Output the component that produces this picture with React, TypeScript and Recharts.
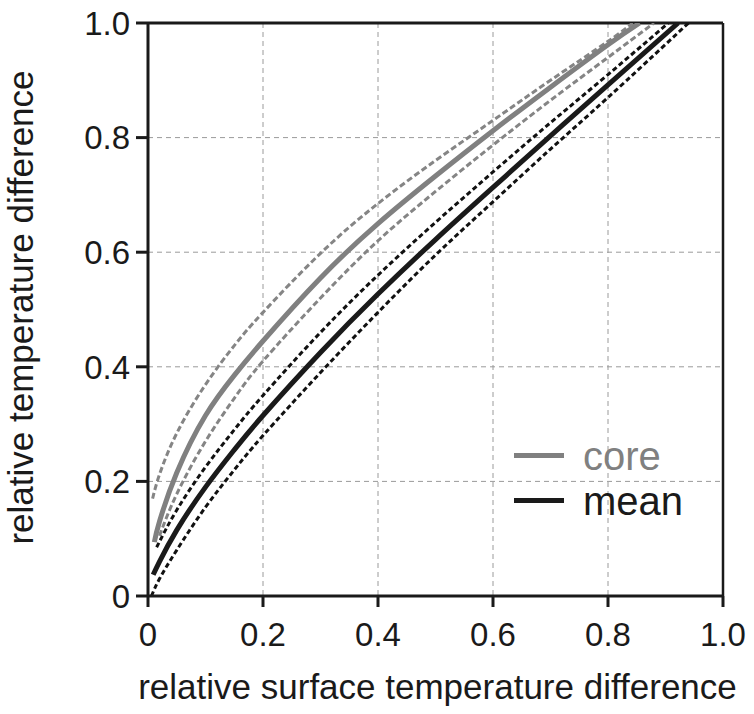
import {
  CartesianGrid,
  Legend,
  Line,
  LineChart,
  ReferenceLine,
  XAxis,
  YAxis,
  Label,
} from "recharts";

// values
const xTicks = [0, 0.2, 0.4, 0.6, 0.8, 1.0];
const yTicks = [0, 0.2, 0.4, 0.6, 0.8, 1.0];

const coreX = [0.011, 0.02, 0.05, 0.1, 0.15, 0.2, 0.3, 0.4, 0.5, 0.6, 0.7, 0.8, 0.855];
const coreY = [0.094, 0.13, 0.215, 0.315, 0.385, 0.445, 0.555, 0.65, 0.733, 0.812, 0.888, 0.962, 1.0];

const coreUpX = [0.008, 0.02, 0.05, 0.1, 0.15, 0.2, 0.3, 0.4, 0.5, 0.6, 0.7, 0.8, 0.843];
const coreUpY = [0.17, 0.212, 0.284, 0.369, 0.437, 0.495, 0.598, 0.685, 0.76, 0.83, 0.9, 0.968, 1.0];

const coreLowX = [0.02, 0.05, 0.1, 0.15, 0.2, 0.3, 0.4, 0.5, 0.6, 0.7, 0.8, 0.88];
const coreLowY = [0.105, 0.178, 0.27, 0.345, 0.41, 0.52, 0.62, 0.706, 0.787, 0.865, 0.94, 1.0];

const meanX = [0.009, 0.02, 0.05, 0.1, 0.15, 0.2, 0.3, 0.4, 0.5, 0.6, 0.7, 0.8, 0.922];
const meanY = [0.037, 0.06, 0.115, 0.19, 0.255, 0.315, 0.425, 0.527, 0.622, 0.713, 0.803, 0.892, 1.0];

const meanUpX = [0.015, 0.05, 0.1, 0.15, 0.2, 0.3, 0.4, 0.5, 0.6, 0.7, 0.8, 0.905];
const meanUpY = [0.085, 0.15, 0.225, 0.29, 0.35, 0.46, 0.56, 0.652, 0.74, 0.826, 0.91, 1.0];

const meanLowX = [0.006, 0.02, 0.05, 0.1, 0.15, 0.2, 0.3, 0.4, 0.5, 0.6, 0.7, 0.8, 0.94];
const meanLowY = [0.0, 0.03, 0.08, 0.155, 0.22, 0.28, 0.39, 0.495, 0.595, 0.688, 0.78, 0.87, 1.0];

const zip = (xs: number[], ys: number[]) => xs.map((x, i) => ({ x, y: ys[i] }));

const font = '"Liberation Sans", Arial, Helvetica, sans-serif';
const ink = "#1a1a1a";
const gray = "#808080";

const renderXLabel = ({ viewBox }: any) => (
  <text
    x={viewBox.x + viewBox.width / 2 + 2}
    y={viewBox.y + 103}
    textAnchor="middle"
    fontSize={35}
    fontFamily={font}
    fill={ink}
  >
    relative surface temperature difference
  </text>
);

const renderYLabel = ({ viewBox }: any) => {
  const x = viewBox.x - 15;
  const y = viewBox.y + viewBox.height / 2 - 2;
  return (
    <text
      x={x}
      y={y}
      transform={`rotate(-90, ${x}, ${y})`}
      textAnchor="middle"
      fontSize={35}
      fontFamily={font}
      fill={ink}
    >
      relative temperature difference
    </text>
  );
};

const renderLegend = ({ payload }: any) => (
  <div style={{ fontFamily: font }}>
    {(payload || [])
      .filter((entry: any) => entry.type !== "none" && entry.value !== "y")
      .map((entry: any) => (
        <div
          key={entry.value}
          style={{ display: "flex", alignItems: "center", height: 45 }}
        >
          <div
            style={{
              width: 50,
              height: 5,
              background: entry.color,
              marginRight: 19,
            }}
          />
          <span style={{ fontSize: 40, color: entry.color, lineHeight: 1 }}>
            {entry.value}
          </span>
        </div>
      ))}
  </div>
);

export default function App() {
  return (
    <div style={{ position: "absolute", left: 0, top: 0, background: "#fff" }}>
      <LineChart
        width={754}
        height={714}
        margin={{ top: 23, right: 31, bottom: 38, left: 48 }}
      >
        <CartesianGrid stroke="#9a9a9a" strokeDasharray="5 4" strokeWidth={1} />
        <XAxis
          dataKey="x"
          type="number"
          domain={[0, 1]}
          ticks={xTicks}
          interval={0}
          allowDataOverflow
          tickFormatter={(v: number) => (v === 0 ? "0" : v.toFixed(1))}
          axisLine={{ stroke: ink, strokeWidth: 3 }}
          tickLine={{ stroke: ink, strokeWidth: 3 }}
          tickSize={11}
          tickMargin={16}
          tick={{ fill: ink, fontSize: 33, fontFamily: font }}
          height={80}
        >
          <Label content={renderXLabel} />
        </XAxis>
        <YAxis
          type="number"
          domain={[0, 1]}
          ticks={yTicks}
          interval={0}
          allowDataOverflow
          tickFormatter={(v: number) => (v === 0 ? "0" : v.toFixed(1))}
          axisLine={{ stroke: ink, strokeWidth: 3 }}
          tickLine={{ stroke: ink, strokeWidth: 3 }}
          tickSize={12}
          tickMargin={6}
          tick={{ fill: ink, fontSize: 33, fontFamily: font }}
          width={100}
        >
          <Label content={renderYLabel} />
        </YAxis>
        <ReferenceLine y={1} stroke={ink} strokeWidth={3} />
        <ReferenceLine x={1} stroke={ink} strokeWidth={2.5} />

        <Line
          data={zip(coreUpX, coreUpY)}
          dataKey="y"
          type="natural"
          stroke="#858585"
          strokeWidth={3}
          strokeDasharray="6 3"
          dot={false}
          legendType="none"
          isAnimationActive={false}
        />
        <Line
          data={zip(coreLowX, coreLowY)}
          dataKey="y"
          type="natural"
          stroke="#858585"
          strokeWidth={3}
          strokeDasharray="6 3"
          dot={false}
          legendType="none"
          isAnimationActive={false}
        />
        <Line
          data={zip(meanUpX, meanUpY)}
          dataKey="y"
          type="natural"
          stroke="#111"
          strokeWidth={3}
          strokeDasharray="5 3"
          dot={false}
          legendType="none"
          isAnimationActive={false}
        />
        <Line
          data={zip(meanLowX, meanLowY)}
          dataKey="y"
          type="natural"
          stroke="#111"
          strokeWidth={3}
          strokeDasharray="5 3"
          dot={false}
          legendType="none"
          isAnimationActive={false}
        />
        <Line
          name="core"
          data={zip(coreX, coreY)}
          dataKey="y"
          type="natural"
          stroke={gray}
          strokeWidth={5}
          dot={false}
          isAnimationActive={false}
        />
        <Line
          name="mean"
          data={zip(meanX, meanY)}
          dataKey="y"
          type="natural"
          stroke={ink}
          strokeWidth={5}
          dot={false}
          isAnimationActive={false}
        />
        <Legend
          layout="vertical"
          align="center"
          verticalAlign="middle"
          content={renderLegend}
          wrapperStyle={{ left: 514, top: 433, width: 200 }}
        />
      </LineChart>
    </div>
  );
}
